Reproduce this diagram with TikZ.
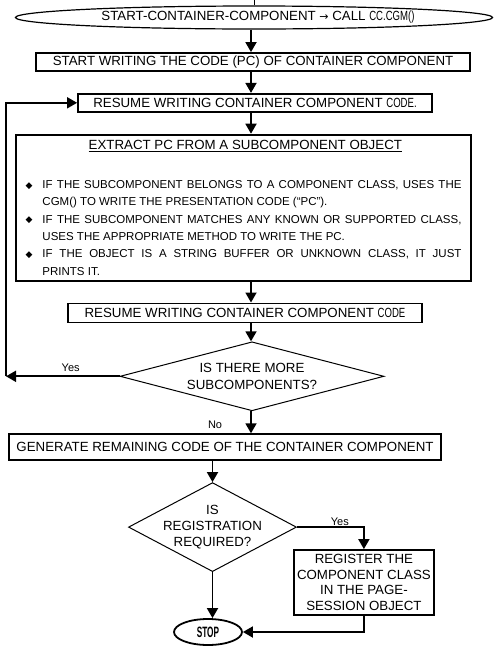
\documentclass[tikz,border=0pt]{standalone}
\usepackage{fontspec}
\setmainfont{Liberation Sans}
\newfontfamily\bulletfont{DejaVu Sans}
\newcommand*{\cond}[1]{\scalebox{0.72}[1]{#1}}
\newcommand*{\bul}{\hangindent=17pt\hangafter=1\noindent\makebox[17pt][l]{\raisebox{0.5pt}{\bulletfont\fontsize{9}{9}\selectfont ◆}}}
\usetikzlibrary{arrows.meta, positioning, shapes.geometric}
\tikzstyle{block} = [rectangle, inner sep=0pt, align=center, font=\fontsize{13.3}{15}\selectfont]
\tikzstyle{process} = [draw, block, line width=1.8pt]
\tikzstyle{terminal} = [draw, block, ellipse, line width=1.2pt]
\tikzstyle{decision} = [draw, block, diamond, line width=1pt, inner sep=-6pt]
\tikzstyle{answer} = [font=\fontsize{11}{13}\selectfont, inner sep=1pt]
\tikzstyle{path} = [-{Triangle[length=10pt, width=11pt]}, line width=1.8pt]
\tikzstyle{stub} = [line width=1pt]

\begin{document}
\begin{tikzpicture}[x=1pt, y=-1pt, node distance=21pt]
    \useasboundingbox (0,0) rectangle (502,662);

    % Main column.
    \node (start) [terminal, minimum width=477pt, minimum height=23pt] at (254,17.5)
        {\hspace{8pt}START-CONTAINER-COMPONENT {\bulletfont\fontsize{11}{13}\selectfont →} CALL \cond{CC.CGM()}};
    \node (write) [process, below=22.5pt of start, xshift=-1pt, minimum width=434pt, minimum height=18pt]
        {START WRITING THE CODE (PC) OF CONTAINER COMPONENT};
    \node (resume1) [process, below=of write, xshift=2pt, minimum width=354pt, minimum height=18pt]
        {RESUME WRITING CONTAINER COMPONENT \cond{CODE.}};
    \node (extract) [process, below=of resume1, xshift=-11.5pt, minimum width=455pt, minimum height=146pt, text width=436pt, align=justify] {
        \vspace*{3pt}
        {\centering\noindent\underline{EXTRACT PC FROM A SUBCOMPONENT OBJECT}\par}
        \vspace{19pt}
        \fontsize{11.5}{17.3}\selectfont\tolerance=10000
        \bul IF THE SUBCOMPONENT BELONGS TO A COMPONENT CLASS, USES THE\linebreak CGM() TO WRITE THE PRESENTATION CODE (“PC”).\par
        \bul IF THE SUBCOMPONENT MATCHES ANY KNOWN OR SUPPORTED CLASS,\linebreak USES THE APPROPRIATE METHOD TO WRITE THE PC.\par
        \bul IF THE OBJECT IS A STRING BUFFER OR UNKNOWN CLASS, IT JUST\linebreak PRINTS IT.\par
    };
    \node (resume2) [process, below=of extract, xshift=1.5pt, minimum width=354pt, minimum height=19pt]
        {RESUME WRITING CONTAINER COMPONENT \cond{CODE}};
    \node (more) [decision, below=18pt of resume2, xshift=7pt, aspect=3.8, minimum width=264pt, minimum height=69pt, font=\fontsize{13.3}{17}\selectfont]
        {IS THERE MORE\\SUBCOMPONENTS?};
    \node (gen) [process, below=22pt of more, xshift=-27pt, minimum width=432pt, minimum height=26pt]
        {GENERATE REMAINING CODE OF THE CONTAINER COMPONENT};

    % Registration branch.
    \node (reg) [decision, below=of gen, xshift=-12.5pt, aspect=1.9, minimum width=168pt, minimum height=89pt, font=\fontsize{13.3}{16}\selectfont]
        {IS\\REGISTRATION\\REQUIRED?};
    \node (register) [process, below right=22pt and -4pt of reg.east, minimum width=140pt, minimum height=65pt, font=\fontsize{13.3}{15.7}\selectfont]
        {REGISTER THE\\COMPONENT CLASS\\IN THE PAGE-\\SESSION OBJECT};
    \node (stop) [terminal, below=46pt of reg, xshift=-4.5pt, minimum width=68pt, minimum height=26pt, line width=1.8pt, font=\bfseries\fontsize{15}{17}\selectfont]
        {\scalebox{0.55}[1]{STOP}};

    % Helper points.
    \coordinate (axis) at (251,0);
    \coordinate (entry) at (254,0);
    \coordinate [left=113.5pt of more.west] (loop);

    % Arrows.
    \draw [stub] (entry) -- (start);
    \foreach\i/\j in {start/write, write/resume1, resume1/extract, extract/resume2, resume2/more} {
        \draw [path] (\i.south -| axis) -- (\j.north -| axis);
    }
    \draw [path] (more.south -| axis) -- node [answer, left=27pt, pos=0.6] {No} (gen.north -| axis);
    \draw [path] (more.west) -- node [answer, above=3pt, pos=0.43] {Yes} (loop);
    \draw [path] (loop) |- (resume1.west);
    \draw [path] (reg.north |- gen.south) -- (reg.north);
    \draw [path] (reg.east) -| node [answer, above, pos=0.32] {Yes} (register.north);
    \draw [path] (reg.south) -- (reg.south |- stop.north);
    \draw [path] (register.south) |- (stop.east);
\end{tikzpicture}
\end{document}
